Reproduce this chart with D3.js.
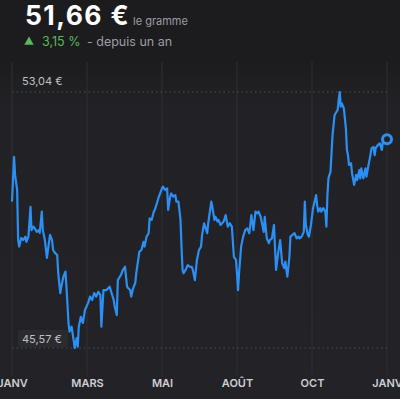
<!DOCTYPE html>
<html lang="fr">
<head>
<meta charset="utf-8">
<script src="https://cdn.jsdelivr.net/npm/d3@7"></script>
<style>
  html, body { margin: 0; padding: 0; background: #1c1c1e; }
  svg { display: block; font-family: Inter, "Noto Sans", sans-serif; }
</style>
</head>
<body>
<svg id="chart" width="400" height="399"></svg>
<script>
/* ============================================================
   DATA (jour de l'année -> cours en € / gramme)
============================================================ */
const jours = [0,2,3,5,6,7,9,11,13,14,16,18,19,21,22,24,26,27,29,30,32,34,35,37,39,40,42,44,45,47,48,50,52,53,55,56,58,60,61,63,64,65,67,69,71,74,76,78,80,82,84,86,87,89,92,95,99,100,102,103,106,108,110,112,113,115,116,118,120,121,124,126,128,129,131,133,134,136,138,139,141,143,146,147,149,151,152,154,155,157,159,160,162,164,165,166,167,169,171,173,175,176,178,180,182,184,185,187,190,191,194,195,197,198,200,201,203,206,208,210,212,214,216,218,219,220,221,223,225,227,229,231,233,235,237,239,240,242,245,246,248,250,251,253,255,257,259,261,263,265,266,268,270,271,273,275,277,279,280,282,284,285,286,288,289,291,293,296,297,298,300,301,303,305,306,307,308,309,310,312,314,315,317,318,319,320,321,323,325,326,327,328,330,331,333,335,336,338,339,340,342,344,345,347,348,350,352,353,354,356,358,360,361,364,365];
const cours = [49.84,51.15,50.62,50.18,48.72,48.53,48.78,48.72,48.82,48.67,48.82,49.69,49.01,49.11,49.07,48.96,49.01,48.93,49.55,49.01,48.72,48.20,48.43,48.87,48.72,48.43,48.34,48.28,47.76,47.17,47.36,47.65,47.80,47.36,46.30,46.05,46.19,45.80,45.57,45.86,45.61,46.19,46.48,46.30,46.68,46.88,47.07,46.97,47.17,47.07,47.21,47.12,46.19,47.26,47.26,47.36,46.97,46.78,46.53,47.55,47.70,47.85,47.94,47.36,47.32,47.26,47.07,47.32,47.47,47.76,48.38,48.43,48.67,48.53,48.82,48.92,49.35,49.31,49.55,49.60,49.79,49.99,50.23,50.28,50.18,50.23,49.60,49.99,50.08,49.99,50.03,49.84,49.84,49.31,48.53,47.85,47.75,47.85,47.99,47.94,47.94,47.85,47.55,48.14,48.43,48.53,48.87,49.21,48.92,49.21,49.84,49.69,49.31,49.40,49.26,49.31,49.16,49.26,49.45,49.11,49.21,49.11,48.23,48.14,47.75,47.26,47.75,48.53,48.82,49.01,49.06,48.92,49.45,49.01,49.55,49.50,49.55,49.40,48.96,49.40,48.77,48.63,48.72,48.77,49.16,47.85,48.33,48.72,48.04,47.90,48.09,47.65,48.23,48.82,48.87,48.92,48.77,48.82,48.77,48.82,48.96,49.84,49.16,48.87,48.82,49.16,49.65,50.03,49.74,49.55,49.65,49.55,49.65,49.55,49.11,50.03,50.52,50.62,50.71,51.79,52.37,52.42,52.52,52.81,53.04,52.61,52.71,52.56,51.98,51.35,51.20,50.91,50.96,50.67,50.33,50.62,50.47,50.76,50.52,50.81,50.52,50.81,50.57,50.91,51.06,51.40,51.44,51.20,51.40,51.49,51.54,51.35,51.59,51.64,51.66];

const moisTicks = [0, 73, 146, 219, 292, 365];
const moisLabels = ["JANV", "MARS", "MAI", "AOÛT", "OCT", "JANV"];

const prixActuel = "51,66 €";
const variation = "3,15 %";
const coursMax = 53.04;
const coursMin = 45.57;

const euro = v => d3.format(".2f")(v).replace(".", ",") + " €";

/* ============================================================
   CHART
============================================================ */
const svg = d3.select("#chart");
const W = 400, H = 399;

const defs = svg.append("defs");
const grad = defs.append("linearGradient")
  .attr("id", "bg").attr("x1", 0).attr("x2", 0).attr("y1", 0).attr("y2", 1);
grad.append("stop").attr("offset", "0%").attr("stop-color", "#1c1c1e");
grad.append("stop").attr("offset", "15%").attr("stop-color", "#1c1c1e");
grad.append("stop").attr("offset", "26%").attr("stop-color", "#222226");
grad.append("stop").attr("offset", "100%").attr("stop-color", "#232327");

svg.append("rect").attr("width", W).attr("height", H).attr("fill", "url(#bg)");

const x = d3.scaleLinear().domain([0, 365]).range([12, 387]);
const y = d3.scaleLinear().domain([coursMin, coursMax]).range([348, 92]);

// vertical gridlines
svg.append("g")
  .selectAll("line")
  .data(moisTicks)
  .join("line")
  .attr("x1", d => x(d)).attr("x2", d => x(d))
  .attr("y1", 62).attr("y2", 375)
  .attr("stroke", "#2f3034")
  .attr("stroke-width", 1);

// x axis labels (cut at the edges like the original)
const xAxis = d3.axisBottom(x)
  .tickValues(moisTicks)
  .tickFormat((d, i) => moisLabels[i])
  .tickSize(0)
  .tickPadding(0);

const gx = svg.append("g")
  .attr("transform", "translate(0,379)")
  .call(xAxis);
gx.select(".domain").remove();
gx.selectAll("text")
  .attr("fill", "#cfcfd3")
  .attr("font-size", 11)
  .attr("font-weight", 600)
  .attr("font-family", "Inter, sans-serif");

// min / max dotted reference lines
svg.append("g")
  .selectAll("line")
  .data([coursMax, coursMin])
  .join("line")
  .attr("x1", x(0)).attr("x2", x(365))
  .attr("y1", d => y(d)).attr("y2", d => y(d))
  .attr("stroke", "#4a4b50")
  .attr("stroke-width", 1)
  .attr("stroke-dasharray", "1.5,3");

svg.append("text")
  .attr("x", 22).attr("y", y(coursMax) - 7)
  .attr("fill", "#c0c0c4")
  .attr("font-size", 11)
  .text(euro(coursMax));

svg.append("rect")
  .attr("x", 18).attr("y", y(coursMin) - 18)
  .attr("width", 50).attr("height", 17)
  .attr("rx", 2)
  .attr("fill", "#2b2b2f");
svg.append("text")
  .attr("x", 22).attr("y", y(coursMin) - 5)
  .attr("fill", "#c0c0c4")
  .attr("font-size", 11)
  .text(euro(coursMin));

// price line
const pts = jours.map((d, i) => [d, cours[i]]);
const line = d3.line().x(d => x(d[0])).y(d => y(d[1]));

svg.append("path")
  .datum(pts)
  .attr("d", line)
  .attr("fill", "none")
  .attr("stroke", "#2b8ff3")
  .attr("stroke-width", 2.2)
  .attr("stroke-linejoin", "round");

const last = pts[pts.length - 1];
svg.append("circle")
  .attr("cx", x(last[0])).attr("cy", y(last[1]))
  .attr("r", 4.5)
  .attr("fill", "#232327")
  .attr("stroke", "#2b8ff3")
  .attr("stroke-width", 3);

/* ============================================================
   HEADER
============================================================ */
svg.append("text")
  .attr("x", 25).attr("y", 25)
  .attr("fill", "#ffffff")
  .attr("font-size", 26.5)
  .attr("font-weight", 700)
  .attr("letter-spacing", 1.4)
  .text(prixActuel);

svg.append("text")
  .attr("x", 133).attr("y", 25)
  .attr("fill", "#9c9ca2")
  .attr("font-size", 11)
  .text("le gramme");

svg.append("path")
  .attr("d", d3.symbol(d3.symbolTriangle, 38)())
  .attr("transform", "translate(29,42)")
  .attr("fill", "#5cb85f");

svg.append("text")
  .attr("x", 42).attr("y", 46)
  .attr("fill", "#5cb85f")
  .attr("font-size", 12.5)
  .text(variation);

svg.append("text")
  .attr("x", 87).attr("y", 46)
  .attr("fill", "#9c9ca2")
  .attr("font-size", 12.5)
  .text("- depuis un an");
</script>
</body>
</html>
